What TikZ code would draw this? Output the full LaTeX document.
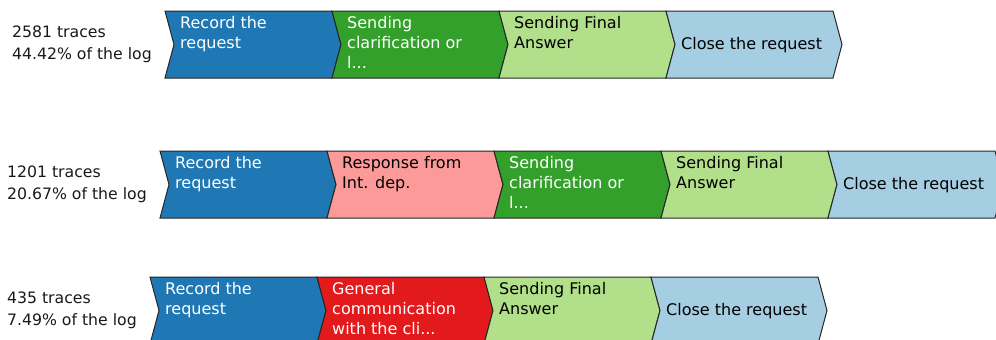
\documentclass[tikz,border=0pt]{standalone}
\usepackage{fontspec}
\setmainfont{DejaVu Sans}
\definecolor{cBlue}{HTML}{1F78B4}
\definecolor{cGreen}{HTML}{33A02C}
\definecolor{cLGreen}{HTML}{B2DF8A}
\definecolor{cLBlue}{HTML}{A6CEE3}
\definecolor{cPink}{HTML}{FB9A99}
\definecolor{cRed}{HTML}{E31A1C}
\newcommand\chevshape[3]{% x, top, fill colour
  \draw[chev, fill=#3] (#1,#2) -- ++(167,0) -- ++(9,33.5) -- ++(-9,33.5) -- ++(-167,0) -- ++(9,-33.5) -- cycle;}
\begin{document}
\begin{tikzpicture}[x=1pt,y=-1pt,
  chev/.style={draw=black!85, line width=1pt, line join=miter},
  ctext/.style={anchor=north west, inner sep=0pt, align=left, font=\fontsize{16}{20}\selectfont},
  wtext/.style={ctext, text=white},
  btext/.style={ctext, text=black},
  rowlabel/.style={anchor=north east, inner sep=0pt, align=left, text=black!90, font=\fontsize{15.7}{22}\selectfont}]
\useasboundingbox (0,0) rectangle (996,340);
\clip (0,0) rectangle (996,340);
% ---------- row 1 ----------
\node[rowlabel] (l1) at (152,21.6) {\strut 2581 traces\\44.42\% of the log};
\chevshape{165}{11}{cBlue}
\chevshape{332}{11}{cGreen}
\chevshape{499}{11}{cLGreen}
\chevshape{666}{11}{cLBlue}
\node[wtext] (a1) at (180,14) {\strut Record the\\request};
\node[wtext] (a2) at (347,14) {\strut Sending\\clarification or\\l...};
\node[btext] (a3) at (514,14) {\strut Sending Final\\Answer};
\node[btext] (a4) at (681,35) {\strut Close the request};
% ---------- row 2 ----------
\node[rowlabel] (l2) at (147,161.6) {\strut 1201 traces\\20.67\% of the log};
\chevshape{160}{151}{cBlue}
\chevshape{327}{151}{cPink}
\chevshape{494}{151}{cGreen}
\chevshape{661}{151}{cLGreen}
\chevshape{828}{151}{cLBlue}
\node[wtext] (b1) at (175,154) {\strut Record the\\request};
\node[btext] (b2) at (342,154) {\strut Response from\\Int. dep.};
\node[wtext] (b3) at (509,154) {\strut Sending\\clarification or\\l...};
\node[btext] (b4) at (676,154) {\strut Sending Final\\Answer};
\node[btext] (b5) at (843,175) {\strut Close the request};
% ---------- row 3 ----------
\node[rowlabel] (l3) at (137,287.6) {\strut 435 traces\\7.49\% of the log};
\chevshape{150}{277}{cBlue}
\chevshape{317}{277}{cRed}
\chevshape{484}{277}{cLGreen}
\chevshape{651}{277}{cLBlue}
\node[wtext] (c1) at (165,280) {\strut Record the\\request};
\node[wtext] (c2) at (332,280) {\strut General\\communication\\with the cli...};
\node[btext] (c3) at (499,280) {\strut Sending Final\\Answer};
\node[btext] (c4) at (666,301) {\strut Close the request};
\end{tikzpicture}
\end{document}
